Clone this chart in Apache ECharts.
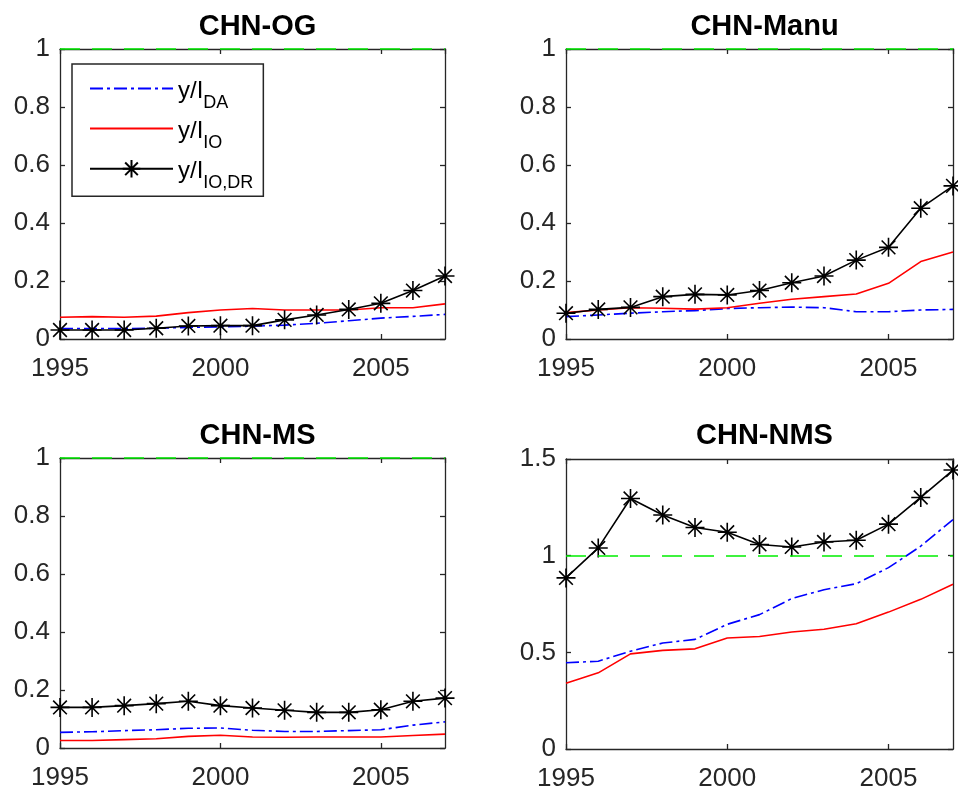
<!DOCTYPE html>
<html><head><meta charset="utf-8">
<script src="https://cdn.jsdelivr.net/npm/echarts@6/dist/echarts.min.js"></script>
<style>html,body{margin:0;padding:0;background:#fff}#c{width:958px;height:792px}</style>
</head><body><div id="c"></div>
<script>
// ---- data ----
const years = [1995,1996,1997,1998,1999,2000,2001,2002,2003,2004,2005,2006,2007];
const panelTitles = ['CHN-OG','CHN-Manu','CHN-MS','CHN-NMS'];

const ogDA   = [0.036,0.036,0.036,0.037,0.040,0.042,0.044,0.048,0.054,0.063,0.072,0.078,0.085];
const ogIO   = [0.075,0.077,0.075,0.079,0.091,0.100,0.105,0.100,0.100,0.100,0.108,0.108,0.121];
const ogIODR = [0.031,0.031,0.031,0.037,0.045,0.046,0.046,0.066,0.083,0.102,0.123,0.167,0.217];

const manuDA   = [0.077,0.083,0.089,0.094,0.098,0.105,0.108,0.110,0.108,0.094,0.094,0.100,0.102];
const manuIO   = [0.091,0.100,0.108,0.106,0.103,0.108,0.123,0.137,0.146,0.155,0.192,0.267,0.300];
const manuIODR = [0.089,0.102,0.109,0.146,0.154,0.152,0.167,0.194,0.217,0.272,0.316,0.451,0.528];

const msDA   = [0.054,0.056,0.060,0.063,0.068,0.069,0.061,0.057,0.057,0.060,0.063,0.079,0.090];
const msIO   = [0.026,0.026,0.029,0.032,0.040,0.044,0.038,0.037,0.038,0.038,0.038,0.043,0.048];
const msIODR = [0.140,0.140,0.146,0.153,0.161,0.146,0.138,0.130,0.123,0.123,0.132,0.161,0.172];

const nmsDA   = [0.446,0.454,0.506,0.548,0.567,0.645,0.695,0.778,0.824,0.855,0.938,1.049,1.187];
const nmsIO   = [0.340,0.394,0.492,0.510,0.518,0.574,0.582,0.605,0.619,0.648,0.708,0.774,0.852];
const nmsIODR = [0.885,1.040,1.296,1.210,1.146,1.121,1.058,1.045,1.071,1.080,1.163,1.301,1.443];

const yMaxes = [1,1,1,1.5];
const yIntervals = [0.2,0.2,0.2,0.5];
const xMin = 1995, xMax = 2007, xInterval = 5;
const parityLevel = 1;
const seriesNames = ['DA','IO','IODR'];
const legendLabels = {DA:'{m|y/I}{s|DA}', IO:'{m|y/I}{s|IO}', IODR:'{m|y/I}{s|IO,DR}'};
const panelData = [
  [ogDA, ogIO, ogIODR],
  [manuDA, manuIO, manuIODR],
  [msDA, msIO, msIODR],
  [nmsDA, nmsIO, nmsIODR]
];

// ---- layout / style ----
const gridBoxes = [
  {left:60, top:49, width:385, height:290},
  {left:566, top:49, width:387, height:290},
  {left:60, top:458, width:385, height:290},
  {left:566, top:459, width:387, height:290}
];
const FONT = '"Liberation Sans", Arial, Helvetica, sans-serif';
const AX = '#262626';
const asterisk = 'path://M10,0L10,20M0,10L20,10M2.8,2.8L17.2,17.2M2.8,17.2L17.2,2.8';
const CLEAR = 'rgba(0,0,0,0)';

const grid = gridBoxes.map(g => Object.assign({containLabel:false}, g));
const xAxis = [], yAxis = [], series = [], title = [];

gridBoxes.forEach((g, i) => {
  const axisLine = {show:true, onZero:false, lineStyle:{color:AX, width:1.3}};
  const axisTick = {show:true, inside:true, length:5, lineStyle:{color:AX, width:1.3}};
  xAxis.push({type:'value', gridIndex:i, position:'bottom', min:xMin, max:xMax, interval:xInterval,
    axisLine, axisTick, splitLine:{show:false},
    axisLabel:{fontSize:26, color:AX, fontFamily:FONT, margin:17, formatter:v => String(v), showMaxLabel:false}});
  xAxis.push({type:'value', gridIndex:i, position:'top', min:xMin, max:xMax, interval:xInterval,
    axisLine, axisTick, splitLine:{show:false}, axisLabel:{show:false}});
  yAxis.push({type:'value', gridIndex:i, position:'left', min:0, max:yMaxes[i], interval:yIntervals[i],
    axisLine, axisTick, splitLine:{show:false},
    axisLabel:{fontSize:26, color:AX, fontFamily:FONT, margin:10}});
  yAxis.push({type:'value', gridIndex:i, position:'right', min:0, max:yMaxes[i], interval:yIntervals[i],
    axisLine, axisTick, splitLine:{show:false}, axisLabel:{show:false}});

  const [da, io, iodr] = panelData[i];
  const xi = i*2, yi = i*2;
  series.push({name:'DA', type:'line', xAxisIndex:xi, yAxisIndex:yi, showSymbol:false, symbol:'circle',
    data: years.map((y,k)=>[y, da[k]]),
    lineStyle:{color:'#0000ff', width:1.6, type:[13,4,3,4]}, itemStyle:{color:CLEAR, borderWidth:0}});
  series.push({name:'IO', type:'line', xAxisIndex:xi, yAxisIndex:yi, showSymbol:false, symbol:'circle',
    data: years.map((y,k)=>[y, io[k]]),
    lineStyle:{color:'#ff0000', width:1.6}, itemStyle:{color:CLEAR, borderWidth:0}});
  series.push({name:'IODR', type:'line', xAxisIndex:xi, yAxisIndex:yi, symbol:asterisk, symbolSize:19,
    clip:false,
    data: years.map((y,k)=>[y, iodr[k]]),
    lineStyle:{color:'#000', width:1.6},
    itemStyle:{color:'#000', borderColor:'#000', borderWidth:1.6}});
  series.push({name:'parity', type:'line', xAxisIndex:xi, yAxisIndex:yi, data:[],
    markLine:{silent:true, symbol:'none', label:{show:false}, animation:false,
      lineStyle:{color:'#00ee00', type:[20,12], width:1.6},
      data:[{yAxis:parityLevel}]}});

  title.push({text:panelTitles[i], left:g.left + g.width/2, top: (i<2 ? 7 : 416), textAlign:'center',
    textStyle:{fontSize:29, fontWeight:'bold', color:'#000', fontFamily:FONT}});
});

const chart = echarts.init(document.getElementById('c'), null, {renderer:'canvas'});
chart.setOption({
  animation:false,
  backgroundColor:'#fff',
  title, grid, xAxis, yAxis, series,
  legend:{
    data: seriesNames, left:72, top:64, orient:'vertical',
    padding:[15,10,4,17], itemWidth:83, itemHeight:22, itemGap:7,
    backgroundColor:'#fff', borderColor:AX, borderWidth:1.5, borderRadius:0,
    formatter: n => legendLabels[n],
    textStyle:{color:'#000', fontFamily:FONT, fontSize:24,
      rich:{m:{fontSize:24, fontFamily:FONT, color:'#000', padding:[5,0,0,0]},
            s:{fontSize:18, fontFamily:FONT, color:'#000', padding:[29,0,0,0]}}}
  }
});
</script></body></html>
